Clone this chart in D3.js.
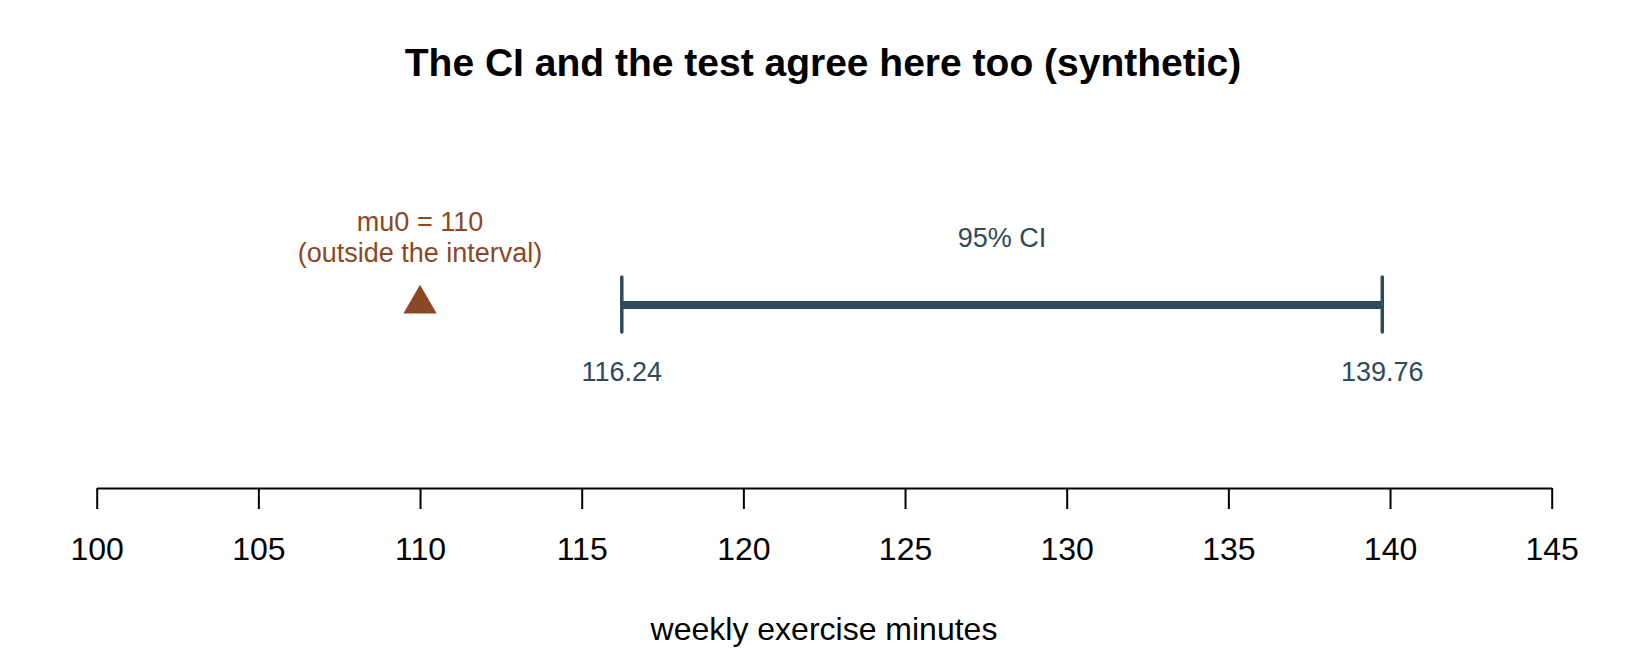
<!DOCTYPE html>
<html>
<head>
<meta charset="utf-8">
<script src="https://cdn.jsdelivr.net/npm/d3@7"></script>
<style>
  body { margin: 0; background: #fff; }
  svg { display: block; font-family: Arial, "Liberation Sans", sans-serif; }
</style>
</head>
<body>
<div id="chart"></div>
<script>
var w = 1650;
var h = 660;

// data
var titleText = "The CI and the test agree here too (synthetic)";
var xLabel = "weekly exercise minutes";
var xTicks = [100, 105, 110, 115, 120, 125, 130, 135, 140, 145];
var ciBounds = [116.24, 139.76];
var ciLabel = "95% CI";
var mu0 = 110;
var mu0Lines = ["mu0 = 110", "(outside the interval)"];

var ciColor = "#2f4a59";
var muColor = "#8b4726";

var axisY = 488;
var ciY = 305;

var xScale = d3.scaleLinear()
    .domain([100, 145])
    .range([96.7, 1551.7]);

var svg = d3.select("#chart")
    .append("svg")
    .attr("width", w)
    .attr("height", h);

// title
svg.append("text")
    .attr("x", 823)
    .attr("y", 75.5)
    .attr("text-anchor", "middle")
    .attr("font-size", "39px")
    .attr("font-weight", "bold")
    .text(titleText);

// x axis
var xAxis = d3.axisBottom(xScale)
    .tickValues(xTicks)
    .tickFormat(d3.format("d"))
    .tickSize(21)
    .tickSizeOuter(0);

var gx = svg.append("g")
    .attr("transform", "translate(0," + axisY + ")")
    .call(xAxis);

gx.select(".domain").attr("stroke", "#000").attr("stroke-width", 2);
gx.selectAll(".tick line").attr("stroke", "#000").attr("stroke-width", 2);
gx.selectAll(".tick text")
    .attr("y", 72)
    .attr("dy", null)
    .attr("fill", "#000")
    .attr("font-size", "32px")
    .attr("font-family", "Arial, 'Liberation Sans', sans-serif");

// axis label
svg.append("text")
    .attr("x", 824)
    .attr("y", 640)
    .attr("text-anchor", "middle")
    .attr("font-size", "32px")
    .text(xLabel);

// CI segment
svg.append("line")
    .attr("x1", xScale(ciBounds[0]))
    .attr("x2", xScale(ciBounds[1]))
    .attr("y1", ciY)
    .attr("y2", ciY)
    .attr("stroke", ciColor)
    .attr("stroke-width", 8);

// end caps
svg.selectAll(".cap")
    .data(ciBounds)
    .enter()
    .append("line")
    .attr("class", "cap")
    .attr("x1", function(d) { return xScale(d); })
    .attr("x2", function(d) { return xScale(d); })
    .attr("y1", ciY - 28)
    .attr("y2", ciY + 27)
    .attr("stroke", ciColor)
    .attr("stroke-width", 3.5)
    .attr("stroke-linecap", "round");

// bound labels
svg.selectAll(".boundLabel")
    .data(ciBounds)
    .enter()
    .append("text")
    .attr("class", "boundLabel")
    .attr("x", function(d) { return xScale(d); })
    .attr("y", 381)
    .attr("text-anchor", "middle")
    .attr("font-size", "27px")
    .attr("fill", ciColor)
    .text(function(d) { return d.toFixed(2); });

// CI label
svg.append("text")
    .attr("x", (xScale(ciBounds[0]) + xScale(ciBounds[1])) / 2)
    .attr("y", 246.5)
    .attr("text-anchor", "middle")
    .attr("font-size", "27px")
    .attr("fill", ciColor)
    .text(ciLabel);

// mu0 triangle
var tri = d3.symbol().type(d3.symbolTriangle).size(480);
svg.append("path")
    .attr("d", tri)
    .attr("transform", "translate(" + xScale(mu0) + "," + 304 + ")")
    .attr("fill", muColor);

// mu0 labels
svg.selectAll(".muLabel")
    .data(mu0Lines)
    .enter()
    .append("text")
    .attr("class", "muLabel")
    .attr("x", xScale(mu0))
    .attr("y", function(d, i) { return 230.5 + i * 31; })
    .attr("text-anchor", "middle")
    .attr("font-size", "27px")
    .attr("fill", muColor)
    .text(function(d) { return d; });
</script>
</body>
</html>
